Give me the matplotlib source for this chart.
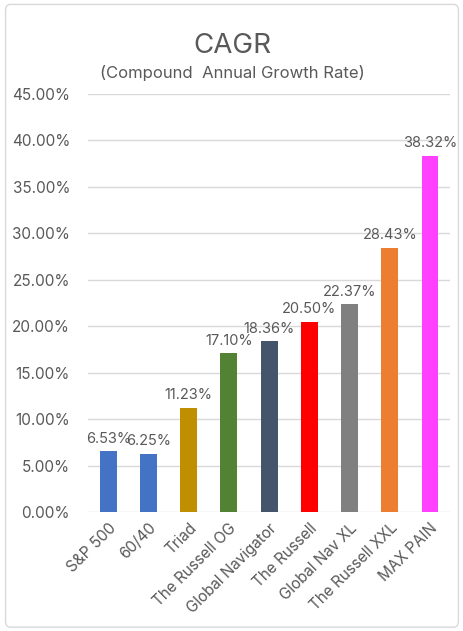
import matplotlib.pyplot as plt
from matplotlib.patches import FancyBboxPatch
from matplotlib.ticker import FuncFormatter

plt.rcParams['font.family'] = ['Inter', 'DejaVu Sans']

# 各策略的年化复合增长率 (%)
names = ['S&P 500', '60/40', 'Triad', 'The Russell OG', 'Global Navigator',
         'The Russell', 'Global Nav XL', 'The Russell XXL', 'MAX PAIN']
cagr = [6.53, 6.25, 11.23, 17.10, 18.36, 20.50, 22.37, 28.43, 38.32]
colors = ['#4472C4', '#4472C4', '#BF8F00', '#548235', '#44546A',
          '#FF0000', '#808080', '#ED7D31', '#FF40FF']

txt = '#595959'
fig = plt.figure(figsize=(4.64, 6.31), dpi=100)
# 外框
fig.patches.append(FancyBboxPatch((0.012, 0.006), 0.976, 0.987,
                                  boxstyle='round,pad=0,rounding_size=0.01',
                                  transform=fig.transFigure, fc='white',
                                  ec='#D9D9D9', lw=1, zorder=-5))
ax = fig.add_axes([0.19, 0.1886, 0.78, 0.6624])
ax.set_zorder(2)
ax.set_facecolor('none')

x = range(len(names))
ax.bar(x, cagr, width=0.42, color=colors, zorder=3)
for i, v in zip(x, cagr):
    ax.text(i, v + 0.6, f'{v:.2f}%', ha='center', va='bottom',
            fontsize=10.5, color=txt, zorder=4)

ax.set_xlim(-0.5, len(names) - 0.5)
ax.set_ylim(0, 45)
ax.set_yticks([i * 5 for i in range(10)])
ax.yaxis.set_major_formatter(FuncFormatter(lambda v, p: f'{v:.2f}%'))
ax.grid(axis='y', color='#D9D9D9', lw=1, zorder=0)
for s in ax.spines.values():
    s.set_visible(False)
ax.tick_params(length=0, labelsize=11, labelcolor=txt)
ax.tick_params(axis='y', pad=13)
ax.tick_params(axis='x', pad=6)
ax.set_xticks(list(x))
ax.set_xticklabels(names, rotation=45, ha='right', rotation_mode='anchor')

fig.text(0.5, 0.927, 'CAGR', ha='center', va='center', fontsize=20, color=txt)
fig.text(0.5, 0.884, '(Compound  Annual Growth Rate)', ha='center', va='center',
         fontsize=12, color=txt)

fig.savefig('out.png', dpi=100)
